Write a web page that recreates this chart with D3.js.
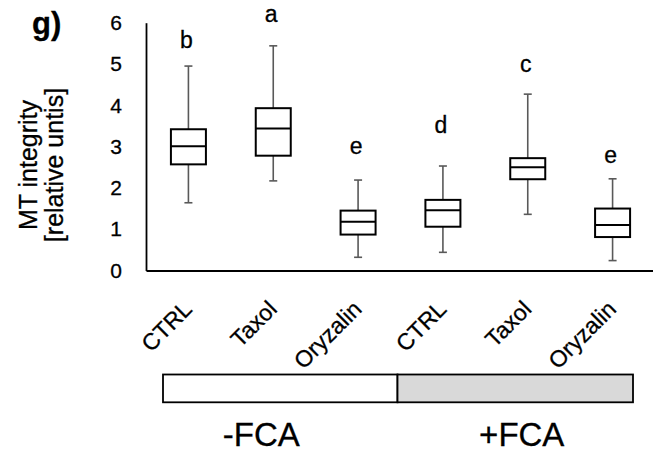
<!DOCTYPE html>
<html>
<head>
<meta charset="utf-8">
<script src="https://d3js.org/d3.v7.min.js"></script>
<style>
  body { margin: 0; background: #fff; }
  svg { display: block; font-family: "Liberation Sans", Arial, sans-serif; }
  svg text { stroke: #000; stroke-width: 0.3px; }
</style>
</head>
<body>
<script>
    ///////////////// data /////////////////
    var categories = ["CTRL", "Taxol", "Oryzalin", "CTRL", "Taxol", "Oryzalin"];
    var groups = ["-FCA", "+FCA"];
    var groupFill = ["#ffffff", "#d9d9d9"];

    var whiskerLow  = [1.64, 2.17, 0.32, 0.44, 1.36, 0.24];
    var q1          = [2.57, 2.78, 0.87, 1.06, 2.21, 0.81];
    var median      = [3.01, 3.44, 1.18, 1.46, 2.50, 1.10];
    var q3          = [3.42, 3.93, 1.45, 1.71, 2.72, 1.50];
    var whiskerHigh = [4.95, 5.44, 2.19, 2.53, 4.27, 2.22];

    var sigLetters  = ["b", "a", "e", "d", "c", "e"];
    var letterLevel = [5.39, 6.02, 2.82, 3.33, 4.81, 2.61];

    var yTicks = [0, 1, 2, 3, 4, 5, 6];

    ///////////////// chart settings /////////////////
    var svgWidth = 653;
    var svgHeight = 454;
    var boxWidth = 35;
    var capWidth = 8;
    var fontFam = "Liberation Sans, Arial, sans-serif";

    var svg = d3.select("body")
        .append("svg")
        .attr("width", svgWidth)
        .attr("height", svgHeight);

    svg.append("rect")
        .attr("width", svgWidth)
        .attr("height", svgHeight)
        .attr("fill", "#fff");

    var idx = d3.range(categories.length);

    var x = d3.scaleBand()
        .domain(idx)
        .range([146, 655]);

    var y = d3.scaleLinear()
        .domain([0, 6])
        .range([270.5, 22.7]);

    var cx = function (i) { return x(i) + x.bandwidth() / 2; };

    // y axis
    var yAxis = svg.append("g")
        .attr("transform", "translate(146,0)")
        .call(d3.axisLeft(y).tickValues(yTicks).tickFormat(d3.format("d"))
            .tickSize(0).tickPadding(24));
    yAxis.select(".domain").attr("stroke", "#000").attr("stroke-width", 1.8);
    yAxis.selectAll("text")
        .attr("font-size", "21px")
        .attr("font-family", fontFam)
        .attr("fill", "#000");

    // x axis
    var xAxis = svg.append("g")
        .attr("transform", "translate(0," + y(0) + ")")
        .call(d3.axisBottom(x).tickSize(0).tickFormat(function (i) { return categories[i]; }));
    xAxis.select(".domain").attr("stroke", "#000").attr("stroke-width", 1.8);
    xAxis.selectAll("text")
        .attr("font-size", "23px")
        .attr("font-family", fontFam)
        .attr("fill", "#000")
        .attr("text-anchor", "end")
        .attr("x", 0).attr("y", 0).attr("dy", 0)
        .attr("transform", "translate(5,40) rotate(-45)");

    // whiskers
    var boxes = svg.append("g").selectAll("g.box")
        .data(idx)
        .enter().append("g")
        .attr("class", "box");

    boxes.append("line")
        .attr("x1", cx).attr("x2", cx)
        .attr("y1", function (i) { return y(whiskerHigh[i]); })
        .attr("y2", function (i) { return y(q3[i]); });
    boxes.append("line")
        .attr("x1", cx).attr("x2", cx)
        .attr("y1", function (i) { return y(q1[i]); })
        .attr("y2", function (i) { return y(whiskerLow[i]); });
    boxes.append("line")
        .attr("x1", function (i) { return cx(i) - capWidth / 2; })
        .attr("x2", function (i) { return cx(i) + capWidth / 2; })
        .attr("y1", function (i) { return y(whiskerHigh[i]); })
        .attr("y2", function (i) { return y(whiskerHigh[i]); });
    boxes.append("line")
        .attr("x1", function (i) { return cx(i) - capWidth / 2; })
        .attr("x2", function (i) { return cx(i) + capWidth / 2; })
        .attr("y1", function (i) { return y(whiskerLow[i]); })
        .attr("y2", function (i) { return y(whiskerLow[i]); });
    boxes.selectAll("line")
        .attr("stroke", "#595959")
        .attr("stroke-width", 1.6);

    // box + median
    boxes.append("rect")
        .attr("x", function (i) { return cx(i) - boxWidth / 2; })
        .attr("width", boxWidth)
        .attr("y", function (i) { return y(q3[i]); })
        .attr("height", function (i) { return y(q1[i]) - y(q3[i]); })
        .attr("fill", "#fff")
        .attr("stroke", "#000")
        .attr("stroke-width", 2);
    boxes.append("line")
        .attr("x1", function (i) { return cx(i) - boxWidth / 2; })
        .attr("x2", function (i) { return cx(i) + boxWidth / 2; })
        .attr("y1", function (i) { return y(median[i]); })
        .attr("y2", function (i) { return y(median[i]); })
        .attr("stroke", "#000")
        .attr("stroke-width", 2);

    // significance letters
    boxes.append("text")
        .attr("x", function (i) { return cx(i) - 2; })
        .attr("y", function (i) { return y(letterLevel[i]); })
        .attr("text-anchor", "middle")
        .attr("font-size", "23px")
        .attr("fill", "#000")
        .text(function (i) { return sigLetters[i]; });

    // y title
    var yTitle = ["MT integrity", "[relative untis]"];
    svg.selectAll("text.ytitle")
        .data(yTitle)
        .enter().append("text")
        .attr("class", "ytitle")
        .attr("transform", function (d, i) { return "translate(" + (36.5 + i * 26.5) + ",165) rotate(-90)"; })
        .attr("text-anchor", "middle")
        .attr("font-size", "25px")
        .attr("fill", "#000")
        .text(function (d) { return d; });

    // panel label
    svg.append("text")
        .attr("x", 32)
        .attr("y", 34)
        .attr("font-size", "31px")
        .attr("font-weight", "bold")
        .attr("fill", "#000")
        .text("g)");

    // treatment bar under the axis
    var barTop = 374.5, barBottom = 402.3;
    var barEdges = [x(0) + 17, x(3) - 3, x(5) + x.bandwidth() - 22];
    svg.selectAll("rect.group")
        .data(groups)
        .enter().append("rect")
        .attr("class", "group")
        .attr("x", function (d, i) { return barEdges[i]; })
        .attr("width", function (d, i) { return barEdges[i + 1] - barEdges[i]; })
        .attr("y", barTop)
        .attr("height", barBottom - barTop)
        .attr("fill", function (d, i) { return groupFill[i]; })
        .attr("stroke", "#000")
        .attr("stroke-width", 1.8);

    svg.selectAll("text.group")
        .data(groups)
        .enter().append("text")
        .attr("class", "group")
        .attr("x", function (d, i) { return cx(i * 3 + 1) + (i === 0 ? -12 : -6); })
        .attr("y", 446)
        .attr("text-anchor", "middle")
        .attr("font-size", "33px")
        .attr("fill", "#000")
        .text(function (d) { return d; });
</script>
</body>
</html>
